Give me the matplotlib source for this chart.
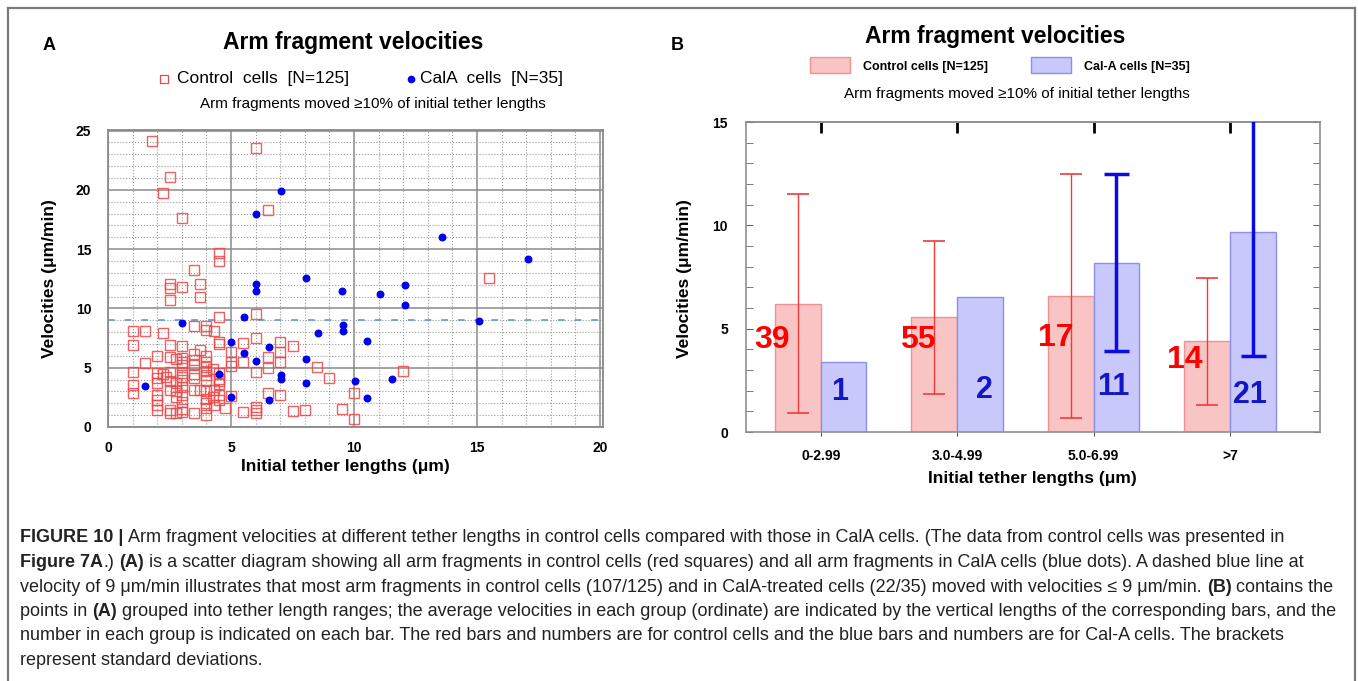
import numpy as np
import matplotlib
matplotlib.use("Agg")
import matplotlib.pyplot as plt
from matplotlib.lines import Line2D
from matplotlib.patches import Rectangle
from matplotlib.text import Annotation

plt.rcParams['font.family'] = ['Liberation Sans', 'DejaVu Sans']

# ---------------- data ----------------
# panel A: control cells (red squares)
ctrl_x = [1.8, 6.0, 2.5, 2.25, 6.5, 3.0, 4.5, 4.5, 3.5, 2.5, 2.5, 3.0, 3.75, 2.5, 3.75, 15.5, 12.0, 9.0, 10.0, 9.5, 10.0,
          4.5, 6.0, 1.0, 1.5, 2.25, 3.5, 4.0, 4.0, 4.3, 1.0, 2.5, 3.0, 4.5, 4.5, 5.5, 6.0, 7.0, 7.5, 5.0, 3.75,
          2.0, 2.5, 2.75, 3.0, 3.0, 3.0, 3.5, 3.5, 3.5, 4.0, 4.0, 4.0, 4.0, 1.5, 5.0, 5.0, 5.5, 6.5, 7.0, 7.0,
          8.5, 1.0, 2.0, 2.5, 3.0, 6.0, 6.5, 4.5,
          2.35, 2.0, 2.0, 2.5, 2.75, 3.0, 3.0, 3.5, 3.5, 3.75, 4.0, 4.3, 4.5, 4.5, 4.5, 1.0, 1.0, 2.5, 2.75, 4.0,
          6.5, 7.0, 3.0, 2.0, 2.75,
          2.0, 2.0, 2.0, 3.0, 3.0, 2.5, 2.75, 3.5, 4.0, 4.0, 4.0, 4.0, 4.3, 4.5, 4.75, 5.5, 6.0, 6.0, 7.5, 8.0,
          2.5, 3.0, 4.25, 5.0, 6.0,
          3.0, 3.5, 4.0, 4.25, 2.25, 4.5]
ctrl_y = [24.1, 23.5, 21.1, 19.7, 18.3, 17.6, 14.7, 14.0, 13.2, 12.1, 11.7, 11.85, 12.1, 10.75, 11.0, 12.6, 4.7, 4.1, 2.9, 1.5, 0.7,
          9.3, 9.5, 8.1, 8.1, 7.9, 8.5, 8.55, 8.15, 8.1, 6.9, 6.9, 6.8, 7.0, 7.15, 7.1, 7.5, 7.15, 6.8, 6.35, 6.5,
          5.95, 5.9, 5.7, 5.85, 5.5, 5.2, 6.15, 5.65, 5.2, 6.0, 5.5, 5.1, 4.7, 5.4, 5.5, 5.15, 5.45, 5.9, 6.3, 5.5,
          5.05, 4.6, 4.55, 4.6, 4.55, 4.6, 5.0, 4.55,
          4.25, 4.1, 3.75, 3.85, 3.75, 3.95, 3.4, 4.1, 3.15, 3.15, 3.95, 3.15, 4.05, 3.85, 3.6, 3.55, 2.85, 3.15, 3.0, 3.0,
          2.85, 2.7, 2.7, 2.7, 2.55,
          2.3, 1.85, 1.45, 2.15, 1.5, 1.45, 1.15, 1.15, 2.4, 2.0, 1.6, 1.05, 1.85, 2.3, 1.6, 1.25, 1.7, 1.15, 1.35, 1.45,
          1.2, 1.3, 2.5, 2.6, 1.45,
          4.2, 4.5, 4.35, 4.9, 4.45, 2.7]

# panel A: CalA cells (blue dots)
cala_x = [7.03, 6.03, 6.03, 8.03, 6.03, 9.53, 13.56, 17.07, 11.06, 12.06, 12.06, 15.07, 9.54, 9.54, 10.54, 10.04, 11.54,
          10.54, 5.53, 3.0, 8.54, 5.01, 6.53, 5.53, 6.03, 8.03, 4.52, 7.03, 7.03, 8.03, 1.5, 5.01, 6.53]
cala_y = [19.9, 18.0, 12.1, 12.55, 11.45, 11.45, 16.05, 14.15, 11.2, 11.97, 10.28, 8.98, 8.6, 8.08, 7.26, 3.89, 4.05,
          2.48, 9.26, 8.76, 7.97, 7.15, 6.78, 6.28, 5.57, 5.77, 4.45, 4.39, 4.05, 3.69, 3.46, 2.56, 2.28]
threshold = 9

# panel B: grouped means, SDs and counts
groups = ["0-2.99", "3.0-4.99", "5.0-6.99", ">7"]
ctrl_mean = [6.2, 5.55, 6.6, 4.4]
ctrl_sd = [5.3, 3.7, 5.9, 3.07]
ctrl_n = [39, 55, 17, 14]
cala_mean = [3.4, 6.55, 8.2, 9.67]
cala_sd = [0, 0, 4.3, 6.0]
cala_n = [1, 2, 11, 21]

# ---------------- layout helpers ----------------
W, H = 1358, 681
fig = plt.figure(figsize=(W / 100, H / 100), dpi=100)


def fx(x):
    return x / W


def fy(y):
    return 1 - y / H


def box(x0, y0, x1, y1):
    return [fx(x0), fy(y1), (x1 - x0) / W, (y1 - y0) / H]


# outer frame
for xs, ys in [([8, 8], [8, 681]), ([8, 1355], [8, 8]), ([1355, 1355], [8, 681])]:
    fig.add_artist(Line2D([fx(v) for v in xs], [fy(v) for v in ys], transform=fig.transFigure,
                          color='#7a7a7a', lw=1.6))

red_edge = '#f04545'
blue_dot = '#0000ee'

# ---------------- panel A ----------------
axA = fig.add_axes(box(108, 130, 603, 427))
axA.set_xlim(0, 20.12)
axA.set_ylim(0, 25.05)
axA.set_xticks(range(0, 21, 5))
axA.set_yticks(range(0, 26, 5))
axA.set_xticks(range(0, 21), minor=True)
axA.set_yticks(range(0, 26), minor=True)
axA.grid(which='major', color='#8a8a8a', lw=1.1, ls='-')
axA.grid(which='minor', color='#9a9a9a', lw=0.8, ls=':')
axA.set_axisbelow(True)
axA.tick_params(which='both', length=0)
axA.tick_params(axis='x', pad=10, labelsize=10)
axA.tick_params(axis='y', pad=12, labelsize=10)
for lab in axA.get_xticklabels() + axA.get_yticklabels():
    lab.set_fontweight('bold')
for sp in axA.spines.values():
    sp.set_color('#8a8a8a')
    sp.set_linewidth(1.3)

axA.axhline(threshold, color='#5b9bd5', lw=1.2, ls=(0, (4, 6)), zorder=2)
axA.plot(ctrl_x, ctrl_y, 's', mfc='none', mec=red_edge, ms=6.9, mew=1.0, alpha=0.85, zorder=3)
axA.plot(cala_x, cala_y, 'o', color=blue_dot, ms=4.7, zorder=4)

fig.text(fx(49), fy(45), "A", fontsize=13, fontweight='bold', ha='center', va='center')
fig.text(fx(353), fy(43), "Arm fragment velocities", fontsize=16.5, fontweight='bold', ha='center', va='center')
fig.add_artist(Line2D([fx(164)], [fy(79)], transform=fig.transFigure, marker='s', mfc='none',
                      mec=red_edge, ms=6, mew=0.9, ls='none'))
fig.text(fx(177), fy(79), "Control  cells  [N=125]", fontsize=12.5, ha='left', va='center')
fig.add_artist(Line2D([fx(411)], [fy(79)], transform=fig.transFigure, marker='o', color=blue_dot,
                      ms=4.5, ls='none'))
fig.text(fx(420), fy(79), "CalA  cells  [N=35]", fontsize=12.5, ha='left', va='center')
fig.text(fx(373), fy(104), "Arm fragments moved \u226510% of initial tether lengths", fontsize=11,
         ha='center', va='center')
fig.text(fx(50), fy(279), "Velocities (\u03bcm/min)", fontsize=12.5, fontweight='bold', rotation=90,
         ha='center', va='center')
fig.text(fx(345), fy(467), "Initial tether lengths (\u03bcm)", fontsize=12.5, fontweight='bold',
         ha='center', va='center')

# ---------------- panel B ----------------
axB = fig.add_axes(box(746, 122, 1320, 432))
pos = np.arange(len(groups))
w = 0.335
axB.set_xlim(-0.548, 3.66)
axB.set_ylim(0, 15)

axB.bar(pos - w / 2, ctrl_mean, width=w, color='#f9c4c4', edgecolor='#f29090', lw=1, zorder=2)
axB.bar(pos + w / 2, cala_mean, width=w, color='#c8c8fa', edgecolor='#8e8ef0', lw=1, zorder=2)
axB.errorbar(pos - w / 2, ctrl_mean, yerr=ctrl_sd, fmt='none', ecolor='#f03a3a', elinewidth=1,
             capsize=7.8, capthick=1.2, zorder=3)
has_sd = np.array(cala_sd) > 0
axB.errorbar((pos + w / 2)[has_sd], np.array(cala_mean)[has_sd], yerr=np.array(cala_sd)[has_sd],
             fmt='none', ecolor='#0a0ae6', elinewidth=2.5, capsize=9, capthick=2.5, zorder=3)

# count labels (offsets from group centre, heights in data units)
red_lab_dx = [-0.36, -0.287, -0.278, -0.329]
red_lab_y = [4.45, 4.45, 4.53, 3.47]
blue_lab_dx = [0.135, 0.198, 0.147, 0.15]
blue_lab_y = [1.94, 2.02, 2.18, 1.78]
for i in range(len(groups)):
    axB.text(pos[i] + red_lab_dx[i], red_lab_y[i], str(ctrl_n[i]), color='#ff0000', fontsize=23,
             fontweight='bold', ha='center', va='center', zorder=5)
    axB.text(pos[i] + blue_lab_dx[i], blue_lab_y[i], str(cala_n[i]), color='#1515c8', fontsize=22,
             fontweight='bold', ha='center', va='center', zorder=5)

axB.set_xticks(pos)
axB.set_xticklabels(groups, fontsize=10, fontweight='bold')
axB.tick_params(axis='x', direction='out', length=3, color='#555', pad=9)
axB.set_yticks([0, 5, 10, 15])
axB.set_yticks(range(0, 16), minor=True)
axB.tick_params(axis='y', which='both', direction='in', left=True, right=True, length=5,
                color='#666', pad=13, labelsize=10)
for lab in axB.get_yticklabels():
    lab.set_fontweight('bold')
top = axB.secondary_xaxis('top')
top.set_xticks(pos)
top.set_xticklabels([])
top.tick_params(direction='in', length=8, width=2, color='k')
for sp in list(axB.spines.values()) + [top.spines['top']]:
    sp.set_color('#909090')
    sp.set_linewidth(1.2)

fig.text(fx(677), fy(45), "B", fontsize=13, fontweight='bold', ha='center', va='center')
fig.text(fx(995), fy(37), "Arm fragment velocities", fontsize=16.5, fontweight='bold', ha='center', va='center')
fig.add_artist(Rectangle((fx(810), fy(73)), 40 / W, 16 / H, transform=fig.transFigure,
                         fc='#f9c4c4', ec='#f29090', lw=1))
fig.text(fx(863), fy(67), "Control cells [N=125]", fontsize=9, fontweight='bold', ha='left', va='center')
fig.add_artist(Rectangle((fx(1031), fy(73)), 40 / W, 16 / H, transform=fig.transFigure,
                         fc='#c8c8fa', ec='#8e8ef0', lw=1))
fig.text(fx(1084), fy(67), "Cal-A cells [N=35]", fontsize=9, fontweight='bold', ha='left', va='center')
fig.text(fx(1017), fy(94), "Arm fragments moved \u226510% of initial tether lengths", fontsize=11,
         ha='center', va='center')
fig.text(fx(685), fy(279), "Velocities (\u03bcm/min)", fontsize=12.5, fontweight='bold', rotation=90,
         ha='center', va='center')
fig.text(fx(1032), fy(478), "Initial tether lengths (\u03bcm)", fontsize=12.5, fontweight='bold',
         ha='center', va='center')

# ---------------- caption ----------------
CAP_FS = 12.95
SPACE = 0.278 * CAP_FS
caption = [
    [("FIGURE 10 |", True), (" Arm fragment velocities at different tether lengths in control cells compared with those in CalA cells. (The data from control cells was presented in", False)],
    [("Figure 7A", True), (".)", False), (" (A)", True), (" is a scatter diagram showing all arm fragments in control cells (red squares) and all arm fragments in CalA cells (blue dots). A dashed blue line at", False)],
    [("velocity of 9 \u03bcm/min illustrates that most arm fragments in control cells (107/125) and in CalA-treated cells (22/35) moved with velocities \u2264 9 \u03bcm/min.", False), (" (B)", True), (" contains the", False)],
    [("points in", False), (" (A)", True), (" grouped into tether length ranges; the average velocities in each group (ordinate) are indicated by the vertical lengths of the corresponding bars, and the", False)],
    [("number in each group is indicated on each bar. The red bars and numbers are for control cells and the blue bars and numbers are for Cal-A cells. The brackets", False)],
    [("represent standard deviations.", False)],
]
line_y = [538, 562.5, 587, 611.5, 636, 660.5]
for y, parts in zip(line_y, caption):
    prev = None
    for s, bold in parts:
        gap = SPACE if s.startswith(" ") else 0
        kw = dict(fontsize=CAP_FS, fontweight='bold' if bold else 'normal', color='#222222')
        if prev is None:
            prev = fig.text(fx(20), fy(y), s.strip(), ha='left', va='center', **kw)
        else:
            ann = Annotation(s.strip(), xy=(1, 0), xycoords=prev, xytext=(gap, 0),
                             textcoords='offset points', ha='left', va='bottom', **kw)
            fig.add_artist(ann)
            prev = ann

fig.savefig("out.png", dpi=100)
